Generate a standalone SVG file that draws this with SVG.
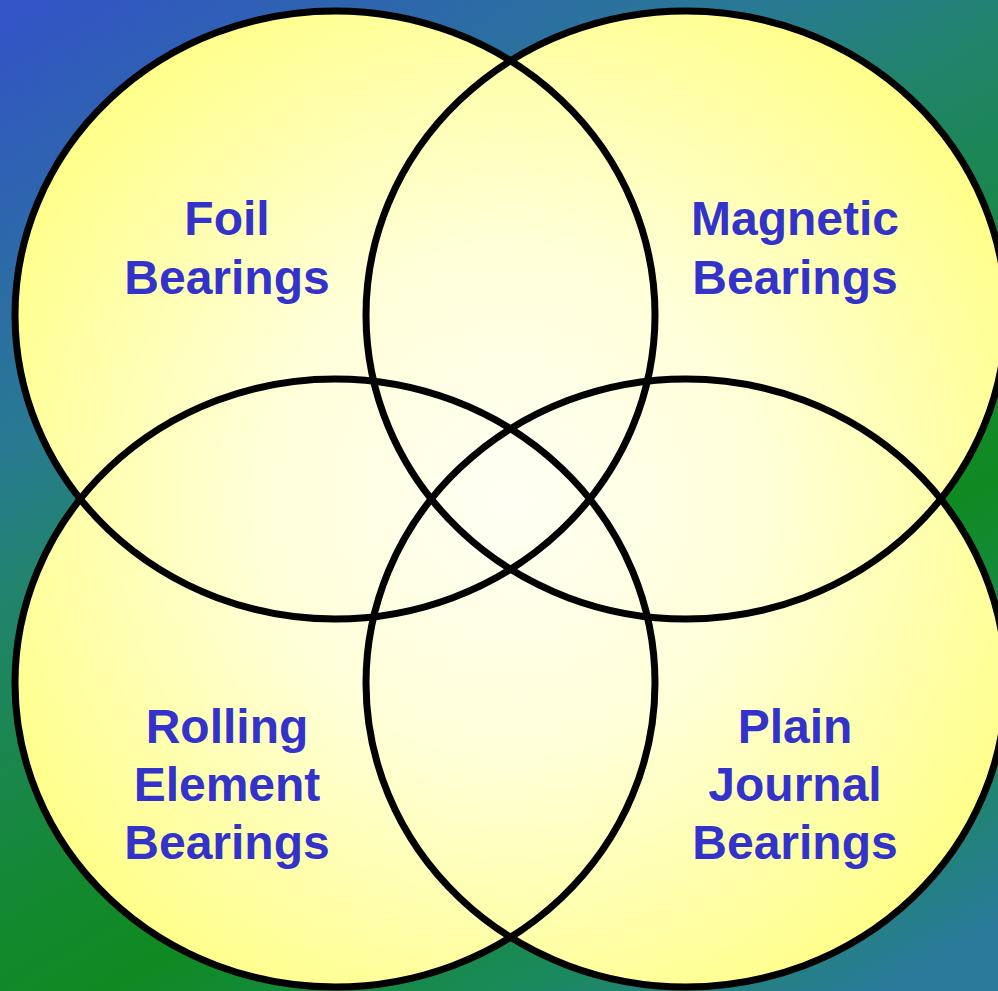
<svg xmlns="http://www.w3.org/2000/svg" width="998" height="991" viewBox="0 0 998 991">
  <defs>
    <linearGradient id="bg" gradientUnits="userSpaceOnUse" x1="0" y1="0" x2="650" y2="1130">
      <stop offset="0" stop-color="#3352c8"/>
      <stop offset="0.30" stop-color="#287a92"/>
      <stop offset="0.40" stop-color="#21846c"/>
      <stop offset="0.62" stop-color="#13892e"/>
      <stop offset="0.70" stop-color="#0f8a22"/>
      <stop offset="0.85" stop-color="#1a8a5a"/>
      <stop offset="1" stop-color="#2a7a9c"/>
    </linearGradient>
    <radialGradient id="fillg" gradientUnits="userSpaceOnUse" cx="510" cy="500" r="570">
      <stop offset="0" stop-color="#fffff4"/>
      <stop offset="0.45" stop-color="#ffffd8"/>
      <stop offset="1" stop-color="#ffff88"/>
    </radialGradient>
  </defs>
  <style>
    .fill { fill: url(#fillg); stroke: none; }
    .ring { fill: none; stroke: #000; stroke-width: 7; }
    .lbl { font-family: "Liberation Sans", Arial, sans-serif; font-weight: bold; font-size: 48px; fill: #3333cc; text-anchor: middle; }
  </style>
  <rect x="0" y="0" width="998" height="991" fill="url(#bg)"/>
  <g id="fills">
    <ellipse class="fill" cx="335" cy="315" rx="320" ry="304"/>
    <ellipse class="fill" cx="686" cy="315" rx="320" ry="304"/>
    <ellipse class="fill" cx="335" cy="683" rx="320" ry="304"/>
    <ellipse class="fill" cx="686" cy="683" rx="320" ry="304"/>
  </g>
  <g id="foil">
    <ellipse class="ring" cx="335" cy="315" rx="320" ry="304"/>
    <text class="lbl" x="227" y="235">Foil</text>
    <text class="lbl" x="227" y="294">Bearings</text>
  </g>
  <g id="magnetic">
    <ellipse class="ring" cx="686" cy="315" rx="320" ry="304"/>
    <text class="lbl" x="795" y="235">Magnetic</text>
    <text class="lbl" x="795" y="294">Bearings</text>
  </g>
  <g id="rolling">
    <ellipse class="ring" cx="335" cy="683" rx="320" ry="304"/>
    <text class="lbl" x="227" y="743">Rolling</text>
    <text class="lbl" x="227" y="801">Element</text>
    <text class="lbl" x="227" y="859">Bearings</text>
  </g>
  <g id="plain">
    <ellipse class="ring" cx="686" cy="683" rx="320" ry="304"/>
    <text class="lbl" x="795" y="743">Plain</text>
    <text class="lbl" x="795" y="801">Journal</text>
    <text class="lbl" x="795" y="859">Bearings</text>
  </g>
</svg>
